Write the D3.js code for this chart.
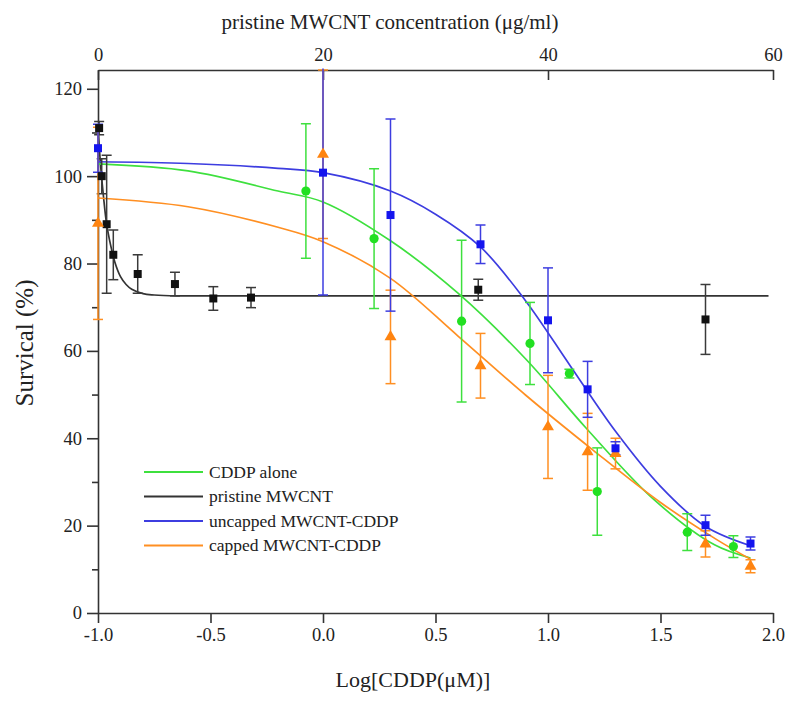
<!DOCTYPE html>
<html>
<head>
<meta charset="utf-8">
<script src="https://cdn.jsdelivr.net/npm/d3@7"></script>
<style>
html,body{margin:0;padding:0;background:#fff;}
svg{display:block;}
text{font-family:"Liberation Serif","Times New Roman",serif;fill:#222;}
</style>
</head>
<body>
<svg id="chart" width="800" height="704"></svg>
<script>
// ---------- data ----------
const bottomTicks = [-1, -0.5, 0, 0.5, 1, 1.5, 2];
const topTicks = [0, 20, 40, 60];
const leftTicks = [0, 20, 40, 60, 80, 100, 120];
const leftMinor = [10, 30, 50, 70, 90, 110];

const cddpX = [-1, 0, 0.3, 0.7, 1.0, 1.176, 1.3, 1.7, 1.9];

const greenX   = [-0.076, 0.227, 0.616, 0.92, 1.095, 1.219, 1.619, 1.824];
const greenY   = [96.6, 85.7, 66.8, 61.7, 54.8, 27.8, 18.5, 15.2];
const greenErr = [15.4, 16, 18.5, 9.4, 1, 10, 4.2, 2.5];

const blueY   = [106.4, 100.8, 91.1, 84.4, 67.0, 51.2, 37.7, 20.1, 15.9];
const blueErr = [5.5, 28, 22, 4.4, 12, 6.4, 1.5, 2.3, 1.5];

const orangeY   = [89.2, 105, 63.2, 56.6, 42.6, 36.9, 36.5, 15.8, 10.7];
const orangeErr = [22, 19.3, 10.7, 7.4, 11.8, 8.8, 3.5, 3, 1.5];

const blackX   = [0.1, 0.33, 0.77, 1.36, 3.53, 6.84, 10.25, 13.6, 33.8, 54.0];  // µg/ml (top axis)
const blackY   = [111, 100, 89, 82, 77.6, 75.3, 72, 72.2, 74, 67.2];
const blackErr = [1.5, 4, 15.8, 5.7, 4.4, 2.7, 2.7, 2.3, 2.4, 8];

// fitted curves
const greenCurve  = [[-1,102.8],[-0.6,101.2],[-0.2,96.6],[0,94.1],[0.3,85.2],[0.6,73.2],[0.9,58.2],[1.17,42.3],[1.47,26.0],[1.74,15.6],[1.9,12.6]];
const blueCurve   = [[-1,103.3],[-0.6,102.9],[-0.2,101.8],[0,100.8],[0.3,96.6],[0.5,91.3],[0.7,83.8],[0.9,71.5],[1.1,56.5],[1.3,41.6],[1.5,29],[1.7,19.8],[1.9,15.4]];
const orangeCurve = [[-1,95],[-0.6,93],[-0.2,88.3],[0,85],[0.3,76.6],[0.6,63.4],[0.9,49.9],[1.2,37.3],[1.5,25.3],[1.75,16.8],[1.9,12.3]];
const blackCurve  = [[0,111],[0.25,101.9],[0.5,95],[0.75,89.3],[1,85.7],[1.5,80.3],[2,77],[2.5,75.2],[3,74.1],[4,73.1],[5,72.8],[7,72.6],[10,72.6],[20,72.6],[40,72.6],[59.6,72.6]];

const legendLabels = ["CDDP alone", "pristine MWCNT", "uncapped MWCNT-CDDP", "capped MWCNT-CDDP"];

// ---------- styles ----------
const COL = {green:"#3ee03e", greenM:"#22e022", black:"#333333", blackM:"#111111",
             blue:"#3d3de0", blueM:"#1414ee", orange:"#ff8f22", orangeM:"#ff8410"};
const axisCol = "#333";

const svg = d3.select("#chart");
const L = 98, R = 773, T = 70, B = 613;

const x = d3.scaleLinear().domain([-1, 2]).range([L, R]);
const xTop = d3.scaleLinear().domain([0, 60]).range([L, R]);
const y = d3.scaleLinear().domain([0, 124.3]).range([B, T]);

svg.append("defs").append("clipPath").attr("id","clip")
  .append("rect").attr("x", L-10).attr("y", T-1.5).attr("width", R-L+20).attr("height", B-T+12);

function styleAxis(g){
  g.selectAll("path,line").attr("stroke", axisCol).attr("stroke-width", 1.6);
  g.selectAll("text").attr("font-family", '"Liberation Serif", serif').attr("font-size", 18.5).attr("fill", "#2a2a2a");
}

// bottom axis
const gB = svg.append("g").attr("transform", `translate(0,${B})`)
  .call(d3.axisBottom(x).tickValues(bottomTicks).tickFormat(d => d.toFixed(1)).tickSize(10).tickSizeOuter(0).tickPadding(5));
styleAxis(gB);

// left axis
const gL = svg.append("g").attr("transform", `translate(${L},0)`)
  .call(d3.axisLeft(y).tickValues(leftTicks).tickSize(11).tickSizeOuter(0).tickPadding(5));
styleAxis(gL);
const gLm = svg.append("g").attr("transform", `translate(${L},0)`)
  .call(d3.axisLeft(y).tickValues(leftMinor).tickSize(6).tickFormat("").tickSizeOuter(0));
gLm.select(".domain").remove();
styleAxis(gLm);

// top axis
const gT = svg.append("g").attr("transform", `translate(0,${T})`)
  .call(d3.axisTop(xTop).tickValues(topTicks).tickSizeInner(-10).tickSizeOuter(0).tickPadding(9));
styleAxis(gT);

// axis titles
svg.append("text").attr("x", 413).attr("y", 687).attr("text-anchor","middle")
  .attr("font-size", 22).text("Log[CDDP(μM)]");
svg.append("text").attr("x", 390).attr("y", 29).attr("text-anchor","middle")
  .attr("font-size", 21).text("pristine MWCNT concentration (μg/ml)");
svg.append("text").attr("transform", "translate(33,343) rotate(-90)").attr("text-anchor","middle")
  .attr("font-size", 25).text("Survical (%)");

const plot = svg.append("g").attr("clip-path","url(#clip)");

// curves
const line = d3.line().curve(d3.curveCatmullRom.alpha(0.5));
function drawCurve(pts, sx, col){
  plot.append("path").attr("d", line(pts.map(p => [sx(p[0]), y(p[1])])))
    .attr("fill","none").attr("stroke", col).attr("stroke-width", 1.7);
}
drawCurve(blackCurve, xTop, COL.black);
drawCurve(greenCurve, x, COL.green);
drawCurve(orangeCurve, x, COL.orange);
drawCurve(blueCurve, x, COL.blue);

// error bars
function drawErr(xs, ys, es, sx, col){
  const g = plot.append("g").attr("stroke", col).attr("stroke-width", 1.5);
  xs.forEach((xv, i) => {
    const px = sx(xv), y1 = y(ys[i] + es[i]), y0 = y(ys[i] - es[i]);
    g.append("line").attr("x1", px).attr("x2", px).attr("y1", y1).attr("y2", y0);
    g.append("line").attr("x1", px-5).attr("x2", px+5).attr("y1", y1).attr("y2", y1);
    g.append("line").attr("x1", px-5).attr("x2", px+5).attr("y1", y0).attr("y2", y0);
  });
}
drawErr(blackX, blackY, blackErr, xTop, "#3a3a3a");
drawErr(greenX, greenY, greenErr, x, COL.green);
drawErr(cddpX, orangeY, orangeErr, x, COL.orange);
drawErr(cddpX, blueY, blueErr, x, COL.blue);

// markers
const mk = plot.append("g");
blackX.forEach((xv, i) => {
  mk.append("rect").attr("x", xTop(xv)-4).attr("y", y(blackY[i])-4).attr("width", 8).attr("height", 8).attr("fill", COL.blackM);
});
greenX.forEach((xv, i) => {
  mk.append("circle").attr("cx", x(xv)).attr("cy", y(greenY[i])).attr("r", 4.6).attr("fill", COL.greenM);
});
const tri = d3.symbol().type(d3.symbolTriangle).size(62);
cddpX.forEach((xv, i) => {
  mk.append("path").attr("d", tri()).attr("transform", `translate(${x(xv)},${y(orangeY[i])})`).attr("fill", COL.orangeM);
});
cddpX.forEach((xv, i) => {
  mk.append("rect").attr("x", x(xv)-4).attr("y", y(blueY[i])-4).attr("width", 8).attr("height", 8).attr("fill", COL.blueM);
});

// legend
const legCols = [COL.green, COL.black, COL.blue, COL.orange];
const legY = [472, 496.5, 521, 545.5];
legendLabels.forEach((lab, i) => {
  svg.append("line").attr("x1", 144).attr("x2", 203).attr("y1", legY[i]).attr("y2", legY[i])
    .attr("stroke", legCols[i]).attr("stroke-width", 1.8);
  svg.append("text").attr("x", 209).attr("y", legY[i] + 5.5).attr("font-size", 17.5).text(lab);
});
</script>
</body>
</html>
